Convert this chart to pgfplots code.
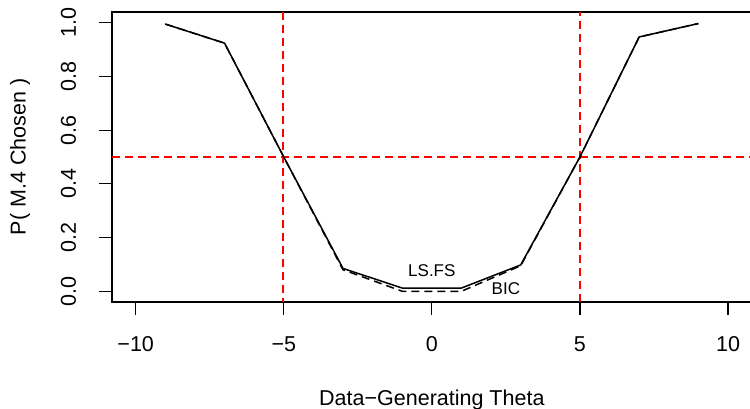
\documentclass[border=0pt]{standalone}
\usepackage{fontspec}
\setmainfont{Liberation Sans}
\usepackage{pgfplots}
\pgfplotsset{compat=1.18}
\definecolor{rred}{RGB}{255,0,0}
\begin{document}
\begin{tikzpicture}
\begin{axis}[
  at={(0,0)}, anchor=south west,
  scale only axis, width=639.7pt, height=290pt,
  xmin=-10.8, xmax=10.8, ymin=-0.04, ymax=1.04,
  axis line style={line width=1.2pt},
  xtick={-10,-5,0,5,10}, xticklabels={−10,−5,0,5,10},
  ytick={0,0.2,0.4,0.6,0.8,1}, yticklabels={0.0,0.2,0.4,0.6,0.8,1.0},
  tick align=outside, xtick pos=bottom, ytick pos=left,
  major tick length=13pt,
  every tick/.style={black, line width=1.2pt},
  tick label style={font=\fontsize{21.5}{25}\selectfont},
  xticklabel style={anchor=base, yshift=-36.5pt},
  yticklabel style={anchor=base, xshift=-23pt, rotate=90},
  every axis x label/.style={at={(axis description cs:0.5,0)}, anchor=base, yshift=-103pt, font=\fontsize{21.5}{25}\selectfont},
  every axis y label/.style={at={(axis description cs:0,0.5)}, anchor=center, xshift=-92pt, rotate=90, font=\fontsize{21.5}{25}\selectfont},
  xlabel={Data−Generating Theta},
  ylabel={P( M.4 Chosen )},
]
\addplot[rred, line width=1.4pt, dash pattern=on 8pt off 5pt] coordinates {(-10.8,0.5) (10.8,0.5)};
\addplot[rred, line width=1.4pt, dash pattern=on 8pt off 5pt] coordinates {(-5.02,1.04) (-5.02,-0.04)};
\addplot[rred, line width=1.4pt, dash pattern=on 8pt off 5pt] coordinates {(5,-0.04) (5,1.04)};
\addplot[black, line width=1.5pt, dash pattern=on 8pt off 5pt] coordinates {
(-9,0.995) (-7,0.924) (-5,0.50) (-3,0.080) (-1,0.0) (1,0.0) (3,0.095) (5,0.50) (7,0.947) (9,0.997)};
\addplot[black, line width=1.5pt] coordinates {
(-9,0.995) (-7,0.924) (-5,0.50) (-3,0.085) (-1,0.012) (1,0.012) (3,0.098) (5,0.50) (7,0.947) (9,0.997)};
\node[font=\fontsize{17}{20}\selectfont] at (axis cs:0,0.076) {LS.FS};
\node[font=\fontsize{17}{20}\selectfont] at (axis cs:2.5,0.009) {BIC};
\end{axis}
\pgfresetboundingbox
\path[use as bounding box] (-112pt,-107pt) rectangle (638pt,302pt);
\end{tikzpicture}
\end{document}
